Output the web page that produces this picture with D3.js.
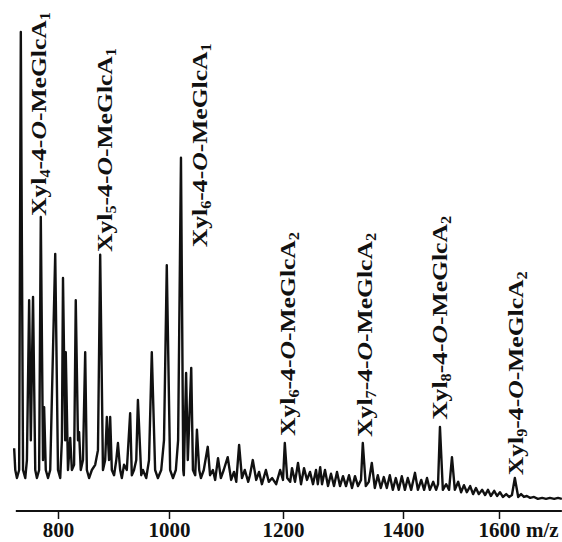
<!DOCTYPE html>
<html>
  <head>
    <meta charset="utf-8" />
    <title>MALDI spectrum</title>
    <style>
      body { margin: 0; background: #fff; }
      svg { display: block; }
      text { font-family: "Liberation Serif", "Times New Roman", serif; font-weight: bold; }
    </style>
  </head>
  <body>
    <svg id="chart" width="562" height="542"></svg>
    <script src="https://d3js.org/d3.v7.min.js"></script>
    <script>
      // spectrum trace, m/z and relative intensity
      const traceMz = [
        721, 723, 726, 730, 733, 737, 741, 744, 748, 751, 755, 759, 762, 766, 769, 773, 775, 778, 782, 786,
        795, 800, 804, 807, 809, 813, 814, 818, 822, 825, 829, 832, 836, 838, 841, 845, 849, 852, 856, 861,
        867, 872, 876, 881, 885, 888, 892, 894, 897, 901, 905, 908, 912, 915, 919, 924, 930, 933, 937, 941,
        944, 950, 953, 959, 964, 969, 975, 980, 986, 991, 996, 1002, 1007, 1012, 1016, 1021, 1025, 1026, 1030, 1033,
        1039, 1042, 1046, 1049, 1053, 1056, 1061, 1068, 1072, 1077, 1081, 1086, 1091, 1096, 1103, 1109, 1114, 1118, 1123, 1128,
        1133, 1139, 1142, 1147, 1153, 1158, 1163, 1170, 1175, 1181, 1188, 1195, 1200, 1203, 1207, 1212, 1215, 1220, 1225, 1230,
        1235, 1240, 1245, 1250, 1255, 1258, 1262, 1265, 1270, 1275, 1280, 1285, 1290, 1295, 1300, 1305, 1310, 1315, 1320, 1325,
        1330, 1333, 1338, 1343, 1348, 1353, 1358, 1363, 1368, 1373, 1378, 1383, 1388, 1393, 1398, 1404, 1410, 1417, 1425, 1431,
        1438, 1444, 1450, 1456, 1463, 1469, 1473, 1477, 1483, 1490, 1496, 1502, 1508, 1515, 1521, 1527, 1533, 1540, 1546, 1552,
        1558, 1565, 1571, 1577, 1583, 1590, 1596, 1602, 1608, 1615, 1621, 1627, 1633, 1640, 1646, 1652, 1658, 1665, 1673, 1681,
        1690, 1698, 1706, 1715, 1723, 1731
      ];
      const traceInt = [
        12.0, 7.4, 5.7, 7.4, 100, 7.4, 5.7, 9.5, 43.3, 13.7, 44.0, 7.4, 5.7, 7.4, 60.9, 9.5, 20.7, 7.4, 5.7, 7.4,
        53.1, 7.4, 5.7, 13.7, 48.0, 13.7, 32.3, 7.4, 14.2, 7.4, 8.5, 43.3, 13.7, 15.4, 7.4, 9.5, 32.3, 7.4, 5.7, 7.4,
        8.5, 11.6, 52.9, 7.4, 9.5, 18.6, 9.5, 18.6, 7.4, 6.3, 9.5, 13.1, 7.4, 5.7, 8.5, 7.4, 19.4, 6.3, 7.4, 9.5,
        22.2, 6.3, 7.4, 5.7, 9.5, 32.3, 7.4, 5.7, 7.4, 13.7, 50.7, 7.4, 5.7, 7.4, 13.7, 73.4, 7.4, 6.3, 27.9, 9.5,
        29.0, 7.4, 6.3, 15.9, 7.4, 5.7, 7.4, 12.3, 6.3, 7.4, 5.3, 9.9, 5.7, 7.4, 10.1, 5.3, 7.0, 4.9, 12.7, 5.7,
        7.4, 4.9, 6.3, 9.5, 5.3, 7.0, 4.4, 7.4, 4.9, 5.7, 4.4, 7.4, 5.3, 13.1, 5.7, 4.9, 7.8, 4.9, 8.9, 4.4,
        7.8, 5.3, 7.0, 4.4, 7.4, 4.4, 8.0, 4.4, 7.4, 4.0, 6.6, 4.0, 7.0, 4.0, 6.1, 4.0, 6.3, 3.6, 6.1, 4.0,
        5.3, 13.1, 4.0, 4.9, 8.9, 3.6, 6.3, 3.6, 5.9, 3.6, 6.3, 3.2, 5.7, 3.2, 6.1, 3.2, 5.7, 3.2, 6.8, 3.2,
        5.3, 3.2, 5.7, 3.2, 4.9, 3.2, 4.4, 16.5, 3.2, 4.4, 3.2, 10.1, 3.2, 4.9, 2.7, 4.2, 2.7, 4.0, 2.3, 3.6,
        2.3, 3.2, 2.1, 3.2, 1.9, 3.0, 1.9, 2.7, 1.7, 2.3, 1.7, 2.1, 5.7, 1.7, 2.3, 1.7, 1.9, 1.5, 1.7, 1.3,
        1.5, 1.3, 1.5, 1.3, 1.5, 1.3
      ];

      // peak annotations: Xyl count, MeGlcA count, where the label sits (m/z, intensity)
      const labelXyl = [4, 5, 6, 6, 7, 8, 9];
      const labelAcid = [1, 1, 1, 2, 2, 2, 2];
      const labelMz = [778, 897, 1067, 1220, 1348, 1492, 1650];
      const labelInt = [61.1, 53.5, 54.5, 14.6, 14.4, 18.0, 6.3];

      const tickValues = [800, 1000, 1200, 1400, 1600];
      const axisExtent = [724, 1731];

      let svg = d3.select("#chart");

      // the scanned axis is not evenly spaced, so map each tick to where it sits
      let xScale = d3.scaleLinear().domain(tickValues).range([58, 169, 283, 403, 499]);
      let yScale = d3.scaleLinear().domain([0, 100]).range([505, 32]);
      let axisY = 511;

      let points = traceMz.map((m, i) => [m, traceInt[i]]);

      let line = d3
        .line()
        .x((d) => xScale(d[0]))
        .y((d) => yScale(d[1]));

      svg
        .append("path")
        .datum(points)
        .attr("d", line)
        .attr("fill", "none")
        .attr("stroke", "#111")
        .attr("stroke-width", 2.4)
        .attr("stroke-linejoin", "round");

      // x axis
      svg
        .append("line")
        .attr("x1", xScale(axisExtent[0]))
        .attr("x2", xScale(axisExtent[1]))
        .attr("y1", axisY)
        .attr("y2", axisY)
        .attr("stroke", "#111")
        .attr("stroke-width", 2);

      let xAxis = svg
        .append("g")
        .attr("transform", "translate(0," + axisY + ")")
        .call(d3.axisBottom(xScale).tickValues(tickValues).tickSize(8).tickFormat(d3.format("d")));

      xAxis.select(".domain").remove();
      xAxis.selectAll(".tick line").attr("stroke", "#111").attr("stroke-width", 1.5);
      xAxis
        .selectAll(".tick text")
        .attr("y", 26)
        .attr("dy", 0)
        .attr("fill", "#111")
        .style("font-size", "21px")
        .style("font-family", "'Liberation Serif', serif")
        .style("font-weight", "bold");

      svg
        .append("text")
        .attr("x", 526)
        .attr("y", axisY + 26)
        .attr("fill", "#111")
        .style("font-size", "21px")
        .text("m/z");

      // rotated peak labels
      let labelLength = 204;
      labelXyl.forEach(function (n, i) {
        let t = svg
          .append("text")
          .attr("fill", "#111")
          .style("font-size", "22px");
        t.append("tspan").text("Xyl");
        t.append("tspan").attr("dy", 4).style("font-size", "14px").text(n);
        t.append("tspan").attr("dy", -4).text("-4-");
        t.append("tspan").style("font-style", "italic").text("O");
        t.append("tspan").text("-MeGlcA");
        t.append("tspan").attr("dy", 4).style("font-size", "14px").text(labelAcid[i]);

        let len = t.node().getComputedTextLength();
        let sx = labelLength / len;
        t.attr(
          "transform",
          "translate(" + xScale(labelMz[i]) + "," + yScale(labelInt[i]) + ") rotate(-90) scale(" + sx + ",1)"
        );
      });
    </script>
  </body>
</html>
